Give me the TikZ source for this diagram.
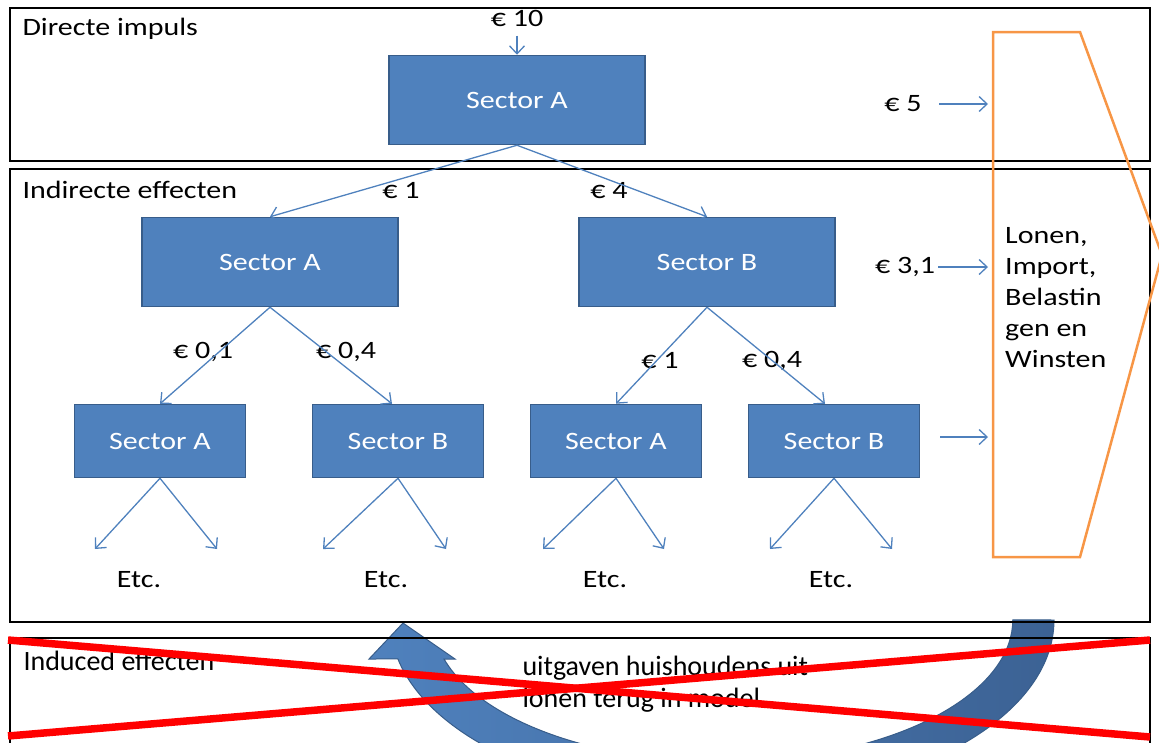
\documentclass[tikz,border=0pt]{standalone}
\usepackage{fontspec}
\setmainfont{Carlito}[FakeStretch=1.2]
\newfontfamily\narrowfont{Carlito}
\usetikzlibrary{arrows.meta}

\definecolor{sectorblue}{RGB}{79,129,189}
\definecolor{sectorborder}{RGB}{56,93,138}
\definecolor{banddark}{RGB}{60,98,148}
\definecolor{orangeline}{RGB}{247,150,70}

\tikzset{
  sector/.style={shape=rectangle, draw=sectorborder, fill=sectorblue, line width=1.5, text=white, minimum width=256, minimum height=89, inner sep=0},
  small sector/.style={sector, minimum width=171, minimum height=73},
  flow/.style={color=sectorblue, line width=1.3, -{Straight Barb[length=8pt,width=15pt]}},
  layer/.style={draw=black, line width=2.5},
}

\begin{document}
\begin{tikzpicture}[x=1pt, y=-1pt, font=\fontsize{25}{31}\selectfont]
    \useasboundingbox (0,0) rectangle (1159,742);
    \clip (0,0) rectangle (1159,742);

    \path[left color=sectorblue, right color=banddark, draw=sectorborder, line width=1]
      (1054,620) arc[start angle=0, end angle=167.5, x radius=332, y radius=180]
      -- (369,659) -- (403,623) -- (455,659) -- (444,659)
      arc[start angle=164, end angle=0, x radius=290, y radius=142] -- cycle;

    \draw[layer] (10,8) rectangle (1150,161);
    \draw[layer] (10,169) rectangle (1150,622);
    \draw[layer] (10,638) rectangle (1150,770);

    \node[anchor=west] (T1) at (19,29) {Directe impuls};
    \node[anchor=west] (T2) at (19,190) {Indirecte effecten};
    \node[anchor=west, font=\narrowfont\fontsize{28}{32}\selectfont] (T3) at (20,661) {Induced effecten};
    \node[anchor=west, align=left, font=\narrowfont\fontsize{28}{32}\selectfont] (H) at (519,684) {uitgaven huishoudens uit\\lonen terug in model};

    \node[sector] (A0) at (517,100) {Sector A};
    \node[sector] (A1) at (270,262) {Sector A};
    \node[sector] (B1) at (707,262) {Sector B};
    \node[small sector] (A2) at (160,441) {Sector A};
    \node[small sector] (B2) at (398,441) {Sector B};
    \node[small sector] (A3) at (616,441) {Sector A};
    \node[small sector] (B3) at (834,441) {Sector B};

    \node (I10) at (517,18) {€ 10};
    \node (I1) at (401,191) {€ 1};
    \node (I4) at (609,191) {€ 4};
    \node (I01) at (203,352) {€ 0,1};
    \node (I04) at (346,352) {€ 0,4};
    \node (J1) at (660,361) {€ 1};
    \node (J04) at (772,361) {€ 0,4};

    \path[flow] ([yshift=-6pt]I10.south) edge (A0.north);
    \path[flow] (A0.south) edge (A1.north);
    \path[flow] (A0.south) edge (B1.north);
    \path[flow] (A1.south) edge (A2.north);
    \path[flow] (A1.south) edge ([xshift=-6pt]B2.north);
    \path[flow] (B1.south) edge (A3.north);
    \path[flow] (B1.south) edge ([xshift=-9pt]B3.north);

    \coordinate (e1) at (95,549);
    \coordinate (e2) at (217,549);
    \coordinate (e3) at (323,549);
    \coordinate (e4) at (446,549);
    \coordinate (e5) at (543,549);
    \coordinate (e6) at (664,549);
    \coordinate (e7) at (770,549);
    \coordinate (e8) at (892,549);

    \path[flow] (A2.south) edge (e1) edge (e2);
    \path[flow] (B2.south) edge (e3) edge (e4);
    \path[flow] (A3.south) edge (e5) edge (e6);
    \path[flow] (B3.south) edge (e7) edge (e8);

    \node (E1) at (139,580) {Etc.};
    \node (E2) at (386,580) {Etc.};
    \node (E3) at (605,580) {Etc.};
    \node (E4) at (831,580) {Etc.};

    \draw[orangeline, line width=2.5] (993,32) -- (1080,32) -- (1162,255) -- (1080,557) -- (993,557) -- cycle;
    \node[anchor=north west, align=left, inner sep=0] (W) at (1005,227) {Lonen,\\Import,\\Belastin\\gen en\\Winsten};

    \node (L5) at (903,104) {€ 5};
    \node (L31) at (905,267) {€ 3,1};
    \coordinate (q1) at (988,104);
    \coordinate (q2) at (988,267);
    \coordinate (q3) at (988,437);

    \path[flow] ([xshift=14pt]L5.east) edge (q1);
    \path[flow] (L31.east) edge (q2);
    \path[flow] ([xshift=20pt]B3.east |- q3) edge (q3);

    \draw[red, line width=7.5] (8,640) -- (1150,737);
    \draw[red, line width=7.5] (8,736) -- (1150,640);

\end{tikzpicture}
\end{document}
